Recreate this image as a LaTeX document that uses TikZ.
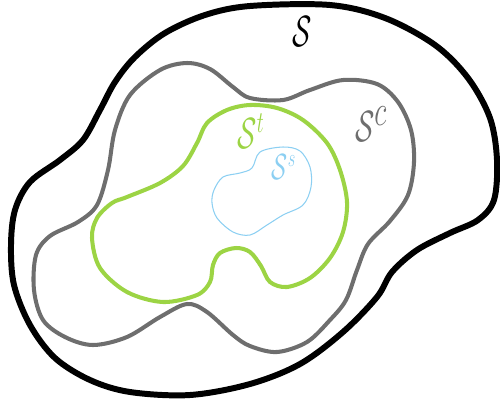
\documentclass[tikz,border=0pt]{standalone}
\usepackage{graphicx}
\usepackage{tikz}
\usetikzlibrary{positioning}
\definecolor{setgray}{HTML}{6E6E6E}
\definecolor{setgreen}{HTML}{9CD444}
\definecolor{setblue}{HTML}{8CCFF2}
\newcommand\SetName[2]{\scalebox{0.65}[1]{\fontsize{#1}{#1}\selectfont $\mathcal{S}#2$}}
\tikzset{
  blob/.style={
    smooth cycle,
    tension = 0.55
  },
  outer/.style={
    line width = 3.4pt,
    black
  },
  middle/.style={
    line width = 2.3pt,
    setgray
  },
  inner/.style={
    line width = 2.3pt,
    setgreen
  },
  core/.style={
    line width = 0.6pt,
    setblue
  },
  setlabel/.style={
    inner sep = 0pt
  }
}

\begin{document}
\begin{tikzpicture}[x=0.02cm,y=-0.02cm]
    \useasboundingbox (0,0) rectangle (500,410);

    % S
    \draw[outer] plot[blob] coordinates {(250,6) (330,5) (385,18) (435,45) (468,78) (490,118)
        (497,160) (494,200) (478,220) (450,233) (417,250) (392,272) (377,297) (343,332)
        (300,364) (250,384) (190,395) (130,392) (90,380) (55,358) (30,325) (14,285)
        (11,245) (15,210) (30,182) (60,160) (83,140) (100,110) (115,82) (135,57) (165,33) (205,15)};

    % S^c
    \draw[middle] plot[blob] coordinates {(250,98) (283,100) (310,90) (343,80) (377,84) (398,102)
        (411,130) (414,162) (408,195) (390,221) (368,244) (357,270) (346,300)
        (330,320) (307,342) (277,352) (250,346) (233,335) (207,312) (187,304) (160,317)
        (127,337) (93,345) (65,337) (43,320) (34,290) (36,255) (50,236) (78,222) (97,205)
        (108,170) (115,130) (130,95) (160,70) (187,63) (210,69) (233,87)};

    % S^t
    \draw[inner] plot[blob] coordinates {(250,105) (277,108) (303,120) (327,143) (340,170)
        (347,202) (343,232) (330,258) (310,278) (287,287) (270,282) (261,266) (250,252)
        (236,248) (220,253) (213,265) (210,282) (197,295) (163,302) (127,292) (100,268)
        (92,238) (97,218) (112,203) (127,197) (160,183) (183,166) (197,143) (207,123) (227,110)};

    % S^s
    \draw[core] plot[blob] coordinates {(260,152) (283,147) (300,151) (310,167) (311,187)
        (303,205) (283,215) (267,225) (250,235) (233,232) (217,218) (212,203) (214,190)
        (223,177) (240,173) (252,168)};

    \node[setlabel] (lS) at (302,32) {\SetName{48}{}};
    \node[setlabel, setgray] (lSc) at (371,124) {\SetName{46}{^c}};
    \node[setlabel, setgreen] (lSt) at (251,131) {\SetName{27}{^t}};
    \node[setlabel, setblue] (lSs) at (284,167) {\SetName{21}{^s}};
\end{tikzpicture}
\end{document}
